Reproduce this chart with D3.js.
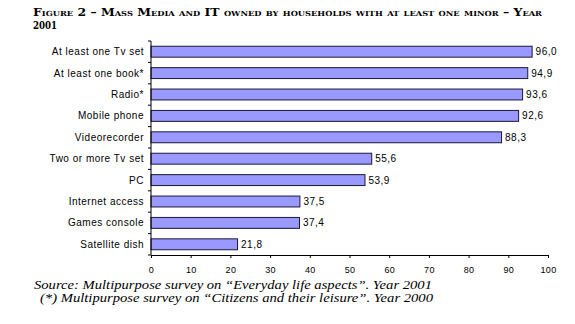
<!DOCTYPE html>
<html>
<head>
<meta charset="utf-8">
<script src="https://cdn.jsdelivr.net/npm/d3@7"></script>
<style>
  body { margin: 0; background: #fff; }
  .axis path, .axis line { stroke: #000; }
  .axis text { font-family: "Liberation Sans", Arial, sans-serif; fill: #000; }
</style>
</head>
<body>
<div id="chart"></div>
<script>
// data
var categories = ["At least one Tv set", "At least one book*", "Radio*", "Mobile phone", "Videorecorder",
    "Two or more Tv set", "PC", "Internet access", "Games console", "Satellite dish"];
var values = [96.0, 94.9, 93.6, 92.6, 88.3, 55.6, 53.9, 37.5, 37.4, 21.8];
var xTicks = [0, 10, 20, 30, 40, 50, 60, 70, 80, 90, 100];

var titleLines = ["Figure 2 \u2013 Mass Media and IT owned by households with at least one minor \u2013 Year", "2001"];
var noteLines = ["Source: Multipurpose survey on \u201cEveryday life aspects\u201d. Year 2001",
    "(*) Multipurpose survey on \u201cCitizens and their leisure\u201d. Year 2000"];

var W = 575, H = 324;
var margin = { top: 41, right: 27, bottom: 69, left: 151 },
    width = W - margin.left - margin.right,
    height = H - margin.top - margin.bottom;

var svg = d3.select("#chart")
    .append("svg")
    .attr("width", W)
    .attr("height", H);

var serif = "'DejaVu Serif', 'Liberation Serif', serif";

// title
svg.append("text")
    .attr("x", 33)
    .attr("y", 16)
    .attr("textLength", 509)
    .attr("lengthAdjust", "spacingAndGlyphs")
    .style("font-family", serif)
    .style("font-weight", "bold")
    .style("font-variant", "small-caps")
    .style("font-size", "10.5px")
    .text(titleLines[0]);
svg.append("text")
    .attr("x", 33)
    .attr("y", 29)
    .attr("textLength", 24)
    .attr("lengthAdjust", "spacingAndGlyphs")
    .style("font-family", serif)
    .style("font-weight", "bold")
    .style("font-size", "10.5px")
    .text(titleLines[1]);

var g = svg.append("g")
    .attr("transform", "translate(" + margin.left + "," + margin.top + ")");

var x = d3.scaleLinear().domain([0, 100]).range([0, width]);
var y = d3.scaleBand().domain(categories).range([0, height]).paddingInner(0.49).paddingOuter(0.245);

// bars
g.selectAll(".bar")
    .data(values)
    .enter()
    .append("rect")
    .attr("class", "bar")
    .attr("x", x(0))
    .attr("y", function (d, i) { return y(categories[i]); })
    .attr("width", function (d) { return x(d) - x(0); })
    .attr("height", y.bandwidth())
    .attr("fill", "#9999ff")
    .attr("stroke", "#1a1a33")
    .attr("stroke-width", 1);

// value labels
g.selectAll(".val")
    .data(values)
    .enter()
    .append("text")
    .attr("class", "val")
    .attr("x", function (d) { return x(d) + 3.5; })
    .attr("y", function (d, i) { return y(categories[i]) + y.bandwidth() / 2; })
    .attr("dy", "0.35em")
    .style("font-family", "'Liberation Sans', Arial, sans-serif")
    .style("font-size", "10px")
    .style("letter-spacing", "0.5px")
    .text(function (d) { return d.toFixed(1).replace(".", ","); });

// x axis
var xAxis = d3.axisBottom(x).tickValues(xTicks).tickSize(3).tickPadding(9).tickSizeOuter(0);
g.append("g")
    .attr("class", "axis")
    .attr("transform", "translate(0," + height + ")")
    .call(xAxis)
    .selectAll("text")
    .style("font-size", "9px")
    .style("letter-spacing", "0.3px");

// y axis with ticks on band edges
var yAxisG = g.append("g").attr("class", "axis");
yAxisG.append("line")
    .attr("x1", 0).attr("x2", 0)
    .attr("y1", 0).attr("y2", height)
    .attr("stroke", "#000");
var edges = d3.range(categories.length + 1).map(function (i) { return i * height / categories.length; });
yAxisG.selectAll(".edge")
    .data(edges)
    .enter()
    .append("line")
    .attr("class", "edge")
    .attr("x1", -3).attr("x2", 0)
    .attr("y1", function (d) { return d; })
    .attr("y2", function (d) { return d; })
    .attr("stroke", "#000");
yAxisG.selectAll(".cat")
    .data(categories)
    .enter()
    .append("text")
    .attr("class", "cat")
    .attr("x", -7)
    .attr("y", function (d) { return y(d) + y.bandwidth() / 2; })
    .attr("dy", "0.35em")
    .attr("text-anchor", "end")
    .style("font-size", "10px")
    .style("letter-spacing", "0.5px")
    .text(function (d) { return d; });

// footnotes
var noteX = [34, 40], noteLen = [398, 393];
noteLines.forEach(function (t, i) {
    svg.append("text")
        .attr("x", noteX[i])
        .attr("y", 289 + i * 13)
        .attr("textLength", noteLen[i])
        .attr("lengthAdjust", "spacingAndGlyphs")
        .style("font-family", "'Liberation Serif', serif")
        .style("font-style", "italic")
        .style("font-size", "11.5px")
        .text(t);
});
</script>
</body>
</html>
